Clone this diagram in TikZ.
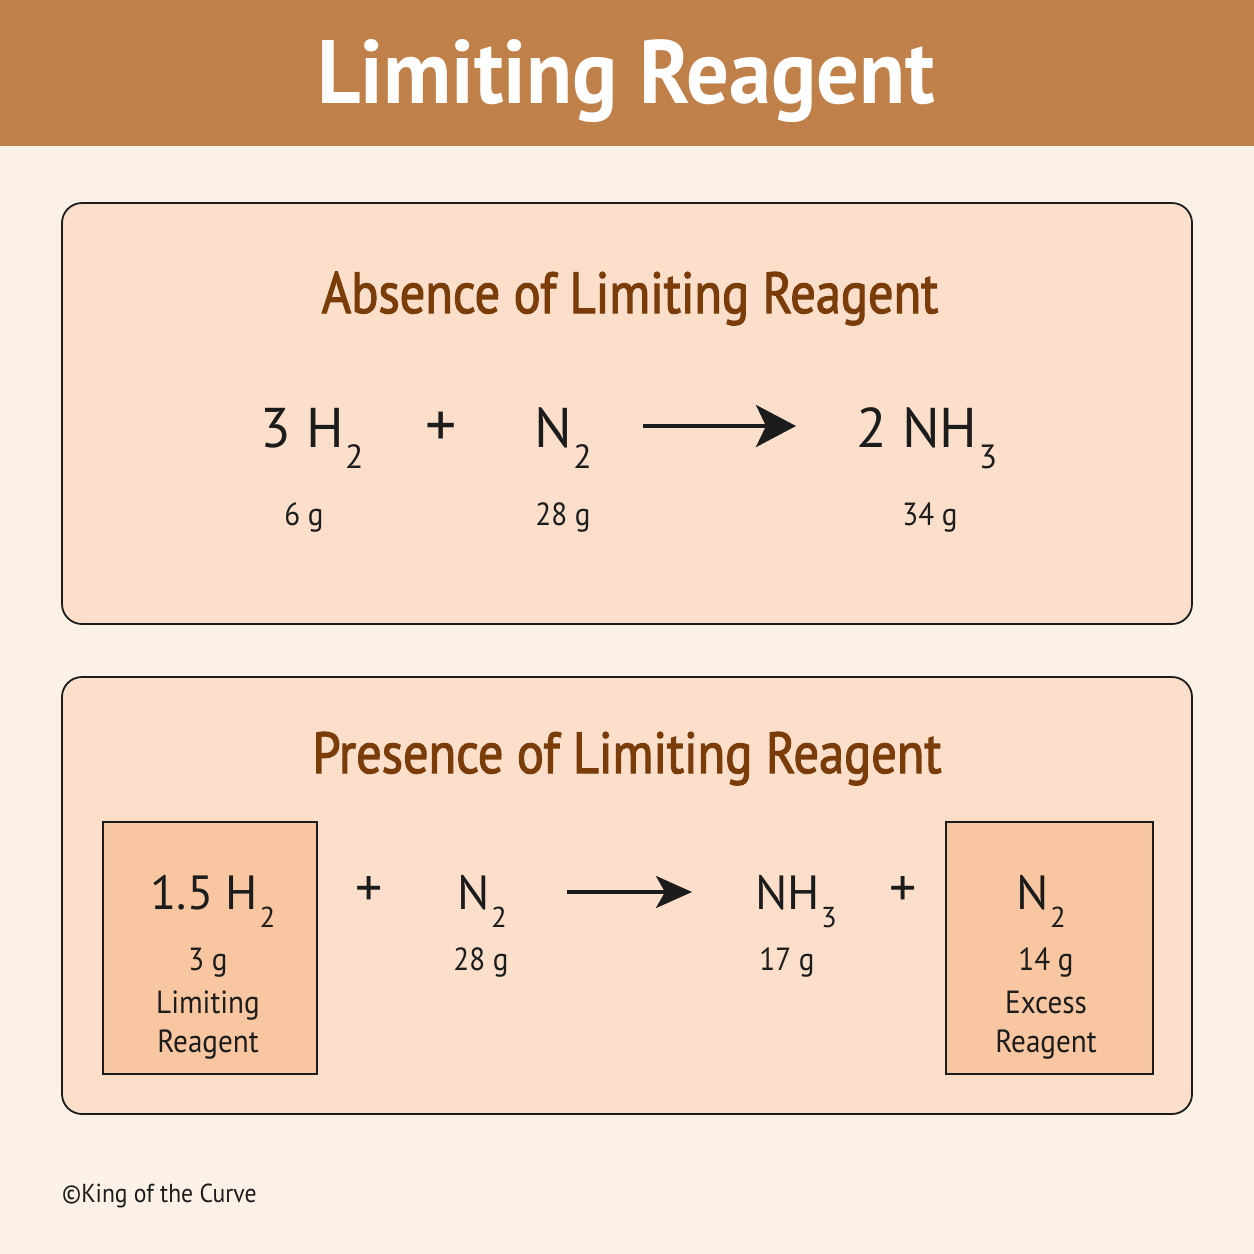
\documentclass[tikz,border=0pt]{standalone}
\usepackage{fontspec}
\setmainfont{PT Sans}
\newfontfamily\titlefont[FakeStretch=0.94]{PT Sans}
\newfontfamily\headfont[FakeStretch=0.87,FakeBold=2]{PT Sans}
\newfontfamily\narrowfont[FakeStretch=0.91]{PT Sans}
\usetikzlibrary{arrows.meta}
\definecolor{band}{HTML}{BF8049}
\definecolor{bgc}{HTML}{FCF1E7}
\definecolor{panelc}{HTML}{FBDFCA}
\definecolor{hboxc}{HTML}{F8C6A0}
\definecolor{ink}{HTML}{1C1C1C}
\definecolor{headc}{HTML}{7A3D0A}
\newcommand\csub[1]{\kern1.5pt\raisebox{-0.39em}{\scalebox{0.6}{#1}}}
\tikzset{
  panelbox/.style={draw=ink, line width=1.8pt, fill=panelc, rounded corners=20pt},
  hlbox/.style={draw=ink, line width=1.8pt, fill=hboxc},
  bigf/.style={anchor=base, inner sep=0pt, text=ink, font=\fontsize{56}{60}\selectfont},
  midf/.style={anchor=base, inner sep=0pt, text=ink, font=\fontsize{48}{52}\selectfont},
  massf/.style={anchor=base, inner sep=0pt, text=ink, font=\narrowfont\fontsize{32}{36}\selectfont},
  plusf/.style={anchor=center, inner sep=0pt, text=ink},
  headf/.style={anchor=base, inner sep=0pt, text=headc, font=\headfont\fontsize{58}{62}\selectfont},
  rxn/.style={line width=4pt, draw=ink, -{Stealth[length=40pt,width=42pt,inset=10pt]}},
  rxnsmall/.style={line width=3.5pt, draw=ink, -{Stealth[length=36pt,width=32pt,inset=9pt]}},
}
\begin{document}
\begin{tikzpicture}[x=1pt,y=-1pt]
\useasboundingbox (0,0) rectangle (1254,1254);
\fill[bgc] (0,0) rectangle (1254,1254);
\fill[band] (0,0) rectangle (1254,146);
\node[anchor=base, inner sep=0pt, text=white, font=\titlefont\fontsize{90}{96}\selectfont\bfseries] (title) at (626,103) {Limiting Reagent};

% Panel 1
\draw[panelbox] (62,203) rectangle (1192,624);
\node[headf] (h1) at (630,313) {Absence of Limiting Reagent};
\node[bigf] (r1a) at (312,447) {3 H\csub{2}};
\node[plusf, font=\fontsize{62}{66}\selectfont] (p1a) at (441,429) {+};
\node[bigf] (r1b) at (563,447) {N\csub{2}};
\coordinate (a1s) at (643,426);
\coordinate (a1e) at (796,426);
\draw[rxn] (a1s) -- (a1e);
\node[bigf] (r1c) at (927,447) {2 NH\csub{3}};
\node[massf] (m1a) at (304,525) {6 g};
\node[massf] (m1b) at (563,525) {28 g};
\node[massf] (m1c) at (930,525) {34 g};

% Panel 2
\draw[panelbox] (62,677) rectangle (1192,1114);
\node[headf] (h2) at (627,773) {Presence of Limiting Reagent};
\draw[hlbox] (103,822) rectangle (317,1074);
\draw[hlbox] (946,822) rectangle (1153,1074);
\node[midf] (r2a) at (213,909) {1.5 H\csub{2}};
\node[plusf, font=\fontsize{54}{58}\selectfont] (p2a) at (369,892) {+};
\node[midf] (r2b) at (482,909) {N\csub{2}};
\coordinate (a2s) at (567,892);
\coordinate (a2e) at (692,892);
\draw[rxnsmall] (a2s) -- (a2e);
\node[midf] (r2c) at (796,909) {NH\csub{3}};
\node[plusf, font=\fontsize{54}{58}\selectfont] (p2b) at (903,892) {+};
\node[midf] (r2d) at (1041,909) {N\csub{2}};
\node[massf] (m2a) at (208,970) {3 g};
\node[massf] (m2b) at (481,970) {28 g};
\node[massf] (m2c) at (787,970) {17 g};
\node[massf] (m2d) at (1046,970) {14 g};
\node[massf] (l2a) at (208,1013) {Limiting};
\node[massf] (l2b) at (208,1052) {Reagent};
\node[massf] (l2c) at (1046,1013) {Excess};
\node[massf] (l2d) at (1046,1052) {Reagent};

\node[anchor=base west, inner sep=0pt, text=ink, font=\narrowfont\fontsize{26}{30}\selectfont] (foot) at (62,1202) {©King of the Curve};
\end{tikzpicture}
\end{document}
